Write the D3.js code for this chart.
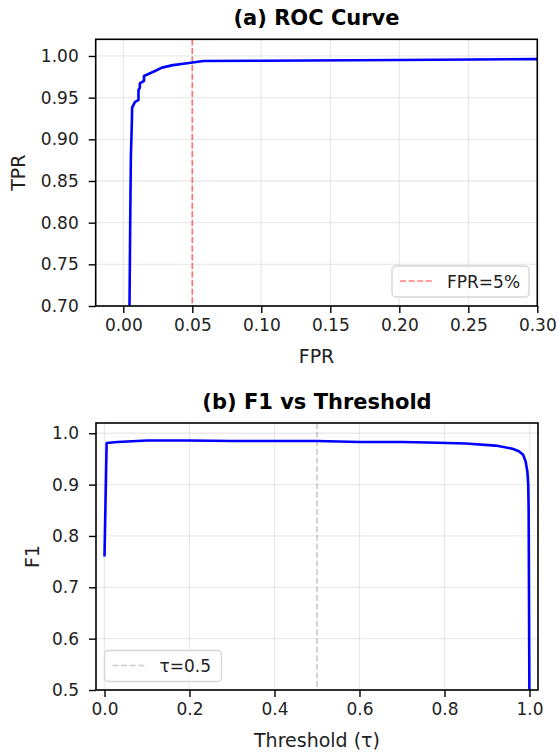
<!DOCTYPE html>
<html>
<head>
<meta charset="utf-8">
<script src="https://cdn.jsdelivr.net/npm/d3@7"></script>
<style>
  body { margin: 0; background: #fff; }
  svg { display: block; font-family: "DejaVu Sans", sans-serif; }
</style>
</head>
<body>
<div id="chart"></div>
<script>
// ROC curve points
const rocFpr = [0.0045, 0.0050, 0.0055, 0.0062, 0.0064, 0.0085, 0.011, 0.011, 0.012, 0.012, 0.015, 0.015, 0.019, 0.023, 0.028, 0.036, 0.045, 0.058, 0.10, 0.20, 0.30, 1.0];
const rocTpr = [0.70, 0.80, 0.88, 0.92, 0.938, 0.945, 0.947, 0.959, 0.962, 0.967, 0.970, 0.976, 0.979, 0.982, 0.986, 0.989, 0.991, 0.994, 0.9943, 0.9952, 0.9962, 1.0];

// F1 vs threshold
const thr = [0.0, 0.005, 0.03, 0.1, 0.2, 0.3, 0.4, 0.5, 0.6, 0.7, 0.76, 0.85, 0.92, 0.96, 0.975, 0.985, 0.991, 0.995, 0.997, 0.998, 1.0];
const f1 = [0.76, 0.981, 0.983, 0.986, 0.986, 0.985, 0.985, 0.985, 0.983, 0.983, 0.982, 0.980, 0.976, 0.970, 0.965, 0.958, 0.945, 0.925, 0.90, 0.85, 0.45];

const rocXTicks = [0.00, 0.05, 0.10, 0.15, 0.20, 0.25, 0.30];
const rocYTicks = [0.70, 0.75, 0.80, 0.85, 0.90, 0.95, 1.00];
const f1XTicks = [0.0, 0.2, 0.4, 0.6, 0.8, 1.0];
const f1YTicks = [0.5, 0.6, 0.7, 0.8, 0.9, 1.0];

const fprRef = 0.05;
const tauRef = 0.5;

const W = 558, H = 753;
const svg = d3.select("#chart").append("svg")
  .attr("width", W).attr("height", H);

function panel(opts) {
  const x = d3.scaleLinear().domain(opts.xDomain).range([opts.left, opts.right]);
  const y = d3.scaleLinear().domain(opts.yDomain).range([opts.bottom, opts.top]);
  const g = svg.append("g");

  // grid
  g.append("g").selectAll("line").data(opts.xTicks).join("line")
    .attr("x1", d => x(d)).attr("x2", d => x(d))
    .attr("y1", opts.top).attr("y2", opts.bottom)
    .attr("stroke", "#b0b0b0").attr("stroke-opacity", 0.25).attr("stroke-width", 1.3);
  g.append("g").selectAll("line").data(opts.yTicks).join("line")
    .attr("x1", opts.left).attr("x2", opts.right)
    .attr("y1", d => y(d)).attr("y2", d => y(d))
    .attr("stroke", "#b0b0b0").attr("stroke-opacity", 0.25).attr("stroke-width", 1.3);

  const clipId = opts.id + "-clip";
  svg.append("clipPath").attr("id", clipId).append("rect")
    .attr("x", opts.left).attr("y", opts.top)
    .attr("width", opts.right - opts.left).attr("height", opts.bottom - opts.top);

  const plot = g.append("g").attr("clip-path", `url(#${clipId})`);

  // reference line
  plot.append("line")
    .attr("x1", x(opts.refX)).attr("x2", x(opts.refX))
    .attr("y1", opts.top).attr("y2", opts.bottom)
    .attr("stroke", opts.refColor).attr("stroke-width", 1.7)
    .attr("stroke-dasharray", "6,2.6");

  const pts = opts.xs.map((v, i) => [v, opts.ys[i]]);
  plot.append("path")
    .datum(pts)
    .attr("fill", "none")
    .attr("stroke", "#0000ff")
    .attr("stroke-width", 2.6)
    .attr("stroke-linejoin", "round")
    .attr("d", d3.line().x(d => x(d[0])).y(d => y(d[1])));

  // axes
  const xAxis = g.append("g")
    .attr("transform", `translate(0,${opts.bottom})`)
    .call(d3.axisBottom(x).tickValues(opts.xTicks).tickFormat(d3.format(opts.xFmt)).tickSize(7).tickPadding(6).tickSizeOuter(0));
  const yAxis = g.append("g")
    .attr("transform", `translate(${opts.left},0)`)
    .call(d3.axisLeft(y).tickValues(opts.yTicks).tickFormat(d3.format(opts.yFmt)).tickSize(7).tickPadding(10).tickSizeOuter(0));
  [xAxis, yAxis].forEach(a => {
    a.select(".domain").remove();
    a.selectAll(".tick line").attr("stroke", "#000").attr("stroke-width", 1.4);
    a.selectAll(".tick text").attr("fill", "#222").style("font-size", "17px")
      .style("font-family", "DejaVu Sans");
  });

  // frame
  g.append("rect")
    .attr("x", opts.left).attr("y", opts.top)
    .attr("width", opts.right - opts.left).attr("height", opts.bottom - opts.top)
    .attr("fill", "none").attr("stroke", "#000").attr("stroke-width", 1.6);

  // title and labels
  g.append("text")
    .attr("x", (opts.left + opts.right) / 2).attr("y", opts.top - 14)
    .attr("text-anchor", "middle").style("font-size", "21px").style("font-weight", "bold")
    .text(opts.title);
  g.append("text")
    .attr("x", (opts.left + opts.right) / 2).attr("y", opts.bottom + 57)
    .attr("text-anchor", "middle").style("font-size", "19px").attr("fill", "#222")
    .text(opts.xLabel);
  g.append("text")
    .attr("transform", `translate(${opts.yLabelX},${(opts.top + opts.bottom) / 2}) rotate(-90)`)
    .attr("text-anchor", "middle").style("font-size", "19px").attr("fill", "#222")
    .text(opts.yLabel);

  // legend
  const lg = g.append("g").attr("transform", `translate(${opts.legendX},${opts.legendY})`);
  lg.append("rect")
    .attr("width", opts.legendW).attr("height", 31).attr("rx", 4)
    .attr("fill", "#fff").attr("fill-opacity", 0.8)
    .attr("stroke", "#d6d6d6").attr("stroke-width", 1.4);
  lg.append("line")
    .attr("x1", 8).attr("x2", 42).attr("y1", 15).attr("y2", 15)
    .attr("stroke", opts.refColor).attr("stroke-width", 1.7).attr("stroke-dasharray", "6,2.6");
  lg.append("text")
    .attr("x", 55).attr("y", 21.5)
    .style("font-size", "17px").attr("fill", "#222")
    .text(opts.legendText);
}

panel({
  id: "roc",
  left: 95.7, right: 537.3, top: 39.3, bottom: 306,
  xDomain: [-0.02, 0.30], yDomain: [0.70, 1.02],
  xTicks: rocXTicks, yTicks: rocYTicks, xFmt: ".2f", yFmt: ".2f",
  xs: rocFpr, ys: rocTpr,
  refX: fprRef, refColor: "rgba(255,0,0,0.5)",
  title: "(a) ROC Curve", xLabel: "FPR", yLabel: "TPR", yLabelX: 25,
  legendX: 392, legendY: 266, legendW: 137, legendText: "FPR=5%"
});

panel({
  id: "f1",
  left: 96, right: 538, top: 423, bottom: 690,
  xDomain: [-0.02, 1.02], yDomain: [0.5, 1.02],
  xTicks: f1XTicks, yTicks: f1YTicks, xFmt: ".1f", yFmt: ".1f",
  xs: thr, ys: f1,
  refX: tauRef, refColor: "rgba(128,128,128,0.4)",
  title: "(b) F1 vs Threshold", xLabel: "Threshold (τ)", yLabel: "F1", yLabelX: 39,
  legendX: 104.5, legendY: 650.5, legendW: 117, legendText: "τ=0.5"
});
</script>
</body>
</html>
